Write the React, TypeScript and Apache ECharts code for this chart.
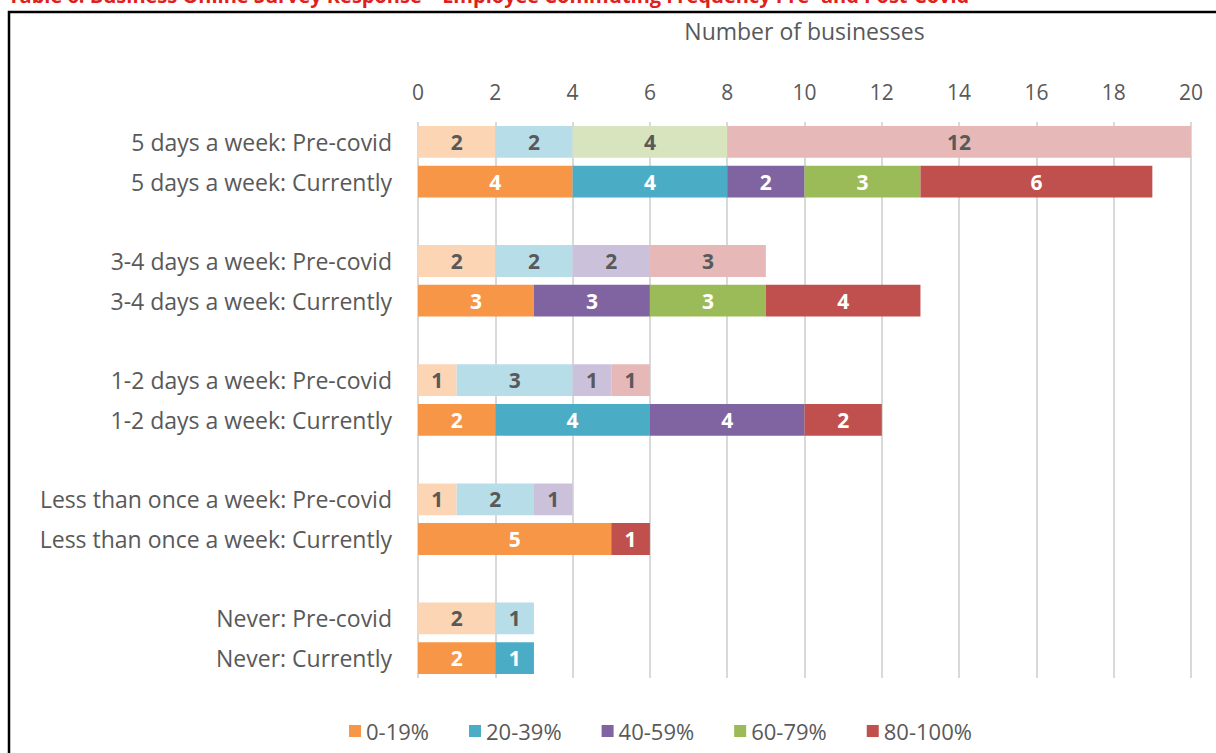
import React, { useEffect, useRef } from "react";
import * as echarts from "echarts";

const categories = [
  "5 days a week: Pre-covid",
  "5 days a week: Currently",
  "",
  "3-4 days a week: Pre-covid",
  "3-4 days a week: Currently",
  " ",
  "1-2 days a week: Pre-covid",
  "1-2 days a week: Currently",
  "  ",
  "Less than once a week: Pre-covid",
  "Less than once a week: Currently",
  "   ",
  "Never: Pre-covid",
  "Never: Currently",
];

const seriesNames = ["0-19%", "20-39%", "40-59%", "60-79%", "80-100%"];
const mainColors = ["#F79646", "#4BACC6", "#8064A2", "#9BBB59", "#C0504D"];
const lightColors = ["#FCD5B5", "#B7DEE8", "#CCC1DA", "#D7E4BD", "#E6B9B8"];

const v0_19 = [2, 4, null, 2, 3, null, 1, 2, null, 1, 5, null, 2, 2];
const v20_39 = [2, 4, null, 2, null, null, 3, 4, null, 2, null, null, 1, 1];
const v40_59 = [null, 2, null, 2, 3, null, 1, 4, null, 1, null, null, null, null];
const v60_79 = [4, 3, null, null, 3, null, null, null, null, null, null, null, null, null];
const v80_100 = [12, 6, null, 3, 4, null, 1, 2, null, null, 1, null, null, null];

const allValues = [v0_19, v20_39, v40_59, v60_79, v80_100];

const xTicks = { min: 0, max: 20, interval: 2 };

const FONT = "Open Sans";
const TXT = "#595959";

export default function App() {
  const ref = useRef<HTMLDivElement>(null);
  useEffect(() => {
    if (!ref.current) return;
    const chart = echarts.init(ref.current, null, { renderer: "svg" });
    const series = seriesNames.map((name, si) => ({
      name,
      type: "bar",
      stack: "total",
      barWidth: "80%",
      itemStyle: { color: mainColors[si] },
      label: {
        show: true,
        position: "inside",
        fontFamily: FONT,
        fontSize: 21,
        fontWeight: "bold",
        formatter: (p: any) => (p.value == null ? "" : String(p.value)),
      },
      data: allValues[si].map((v, ci) => {
        const pre = categories[ci].includes("Pre-covid");
        if (v == null) return "-";
        return {
          value: v,
          itemStyle: { color: pre ? lightColors[si] : mainColors[si] },
          label: { color: pre ? TXT : "#ffffff" },
        };
      }),
    }));
    chart.setOption({
      animation: false,
      textStyle: { fontFamily: FONT },
      grid: { left: 418, right: 25, top: 122, bottom: 75, containLabel: false },
      xAxis: {
        type: "value",
        position: "top",
        min: xTicks.min,
        max: xTicks.max,
        interval: xTicks.interval,
        name: "Number of businesses",
        nameLocation: "middle",
        nameGap: 80,
        nameTextStyle: { color: TXT, fontSize: 23, fontFamily: FONT },
        axisLine: { show: false },
        axisTick: { show: false },
        axisLabel: { color: TXT, fontSize: 21, margin: 20, fontFamily: FONT },
        splitLine: { show: true, lineStyle: { color: "#D9D9D9", width: 2 } },
      },
      yAxis: {
        type: "category",
        inverse: true,
        data: categories,
        axisLine: { show: false },
        axisTick: { show: false },
        axisLabel: { color: TXT, fontSize: 23, margin: 26, fontFamily: FONT },
      },
      legend: {
        bottom: 6,
        left: 344,
        itemWidth: 12,
        itemHeight: 12,
        itemGap: 40,
        icon: "rect",
        textStyle: { color: TXT, fontSize: 22, fontFamily: FONT },
        data: seriesNames,
      },
      graphic: [
        {
          type: "text",
          left: 8,
          top: -15,
          style: {
            text: "Table 6: Business Online Survey Response – Employee Commuting Frequency Pre- and Post-Covid",
            fill: "#E0201B",
            font: "bold 20px 'Open Sans'",
          },
        },
        {
          type: "rect",
          shape: { x: 9, y: 12, width: 1300, height: 900 },
          style: { fill: "none", stroke: "#000", lineWidth: 2.5 },
          silent: true,
        },
      ],
      series,
    });
    return () => chart.dispose();
  }, []);
  return (
    <div
      ref={ref}
      style={{ position: "fixed", left: 0, top: 0, width: 1216, height: 753, background: "#fff" }}
    />
  );
}
